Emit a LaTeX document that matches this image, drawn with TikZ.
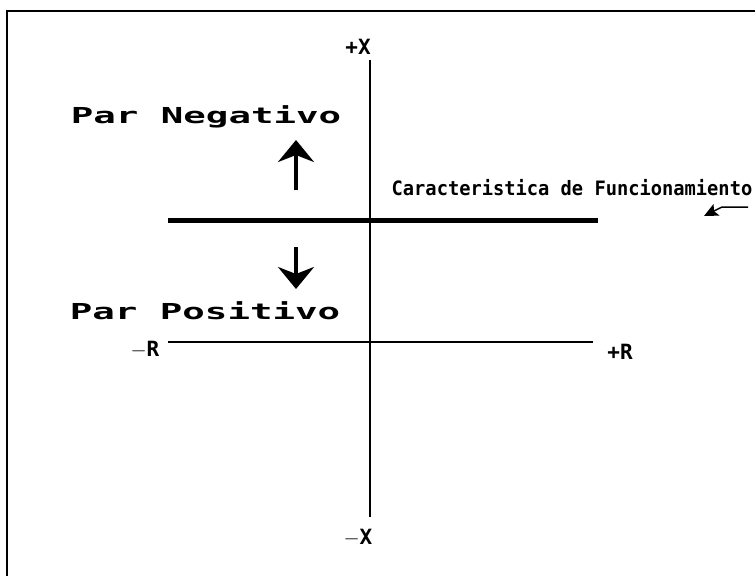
\documentclass[tikz,border=0pt]{standalone}
\usepackage{fontspec}
\setmonofont{DejaVu Sans Mono}
\usetikzlibrary{arrows.meta}
\tikzset{
  lbl/.style={inner sep=0pt, font=\ttfamily\bfseries\fontsize{22}{22}\selectfont, xscale=1.70},
  axlbl/.style={inner sep=0pt, font=\ttfamily\bfseries\fontsize{21}{21}\selectfont},
  small/.style={inner sep=0pt, font=\ttfamily\bfseries\fontsize{18}{18}\selectfont, xscale=1.04, yscale=1.1},
  axis/.style={line width=1.1pt},
  bigarrow/.style={line width=3.5pt, -{Stealth[length=22pt,width=36pt,inset=7pt]}},
}
\begin{document}
\begin{tikzpicture}[x=1pt,y=-1pt]
\useasboundingbox (0,0) rectangle (755,576);
% frame
\draw[line width=1.8pt] (7,576) -- (7,11) -- (755,11);
% axes
\coordinate (xt) at (370,60);
\coordinate (xb) at (370,517);
\coordinate (rl) at (168,342);
\coordinate (rr) at (593,342);
\draw[axis] (xt) -- (xb);
\draw[axis] (rl) -- (rr);
\node[axlbl] (px) at (358,47) {+X};
\node[axlbl] (mx) at (358,538) {$-$X};
\node[axlbl] (mr) at (145,350) {$-$R};
\node[axlbl] (pr) at (620,352) {+R};
% characteristic
\coordinate (cl) at (168,220);
\coordinate (cr) at (598,220);
\draw[line width=5pt] (cl) -- (cr);
% labels
\node[lbl] (neg) at (206,117) {Par Negativo};
\node[lbl] (pos) at (205,311) {Par Positivo};
% arrows
\coordinate (ua) at (296,190);
\coordinate (ub) at (296,140);
\coordinate (da) at (296,247);
\coordinate (db) at (296,289);
\draw[bigarrow] (ua) -- (ub);
\draw[bigarrow] (da) -- (db);
% caption
\node[small] (car) at (572,188) {Caracteristica de Funcionamiento};
\coordinate (p1) at (748,207);
\coordinate (p2) at (722,207);
\coordinate (p3) at (704,216);
\draw[line width=1.5pt, -{Stealth[length=14pt,width=13pt,inset=3pt]}] (p1) -- (p2) -- (p3);
\end{tikzpicture}
\end{document}
